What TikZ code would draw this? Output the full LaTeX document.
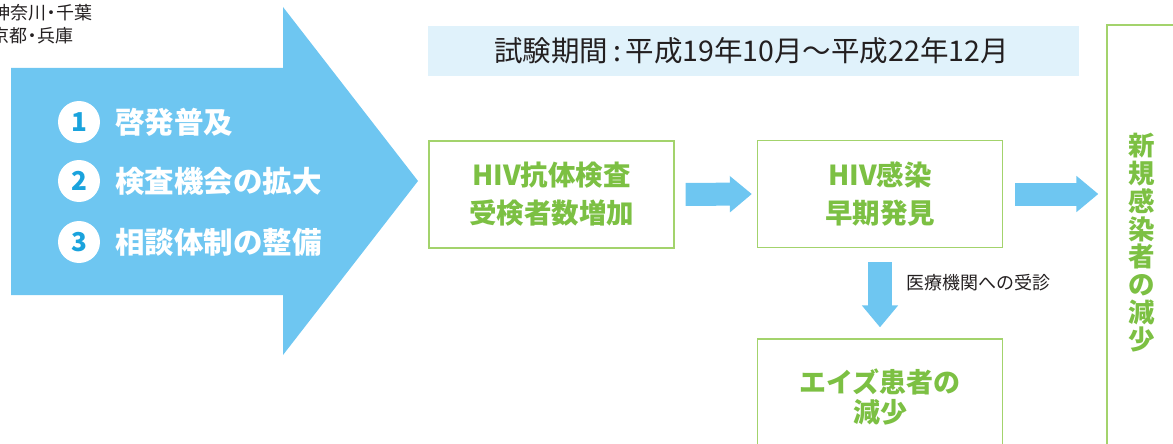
\documentclass[tikz,border=0pt]{standalone}
\usepackage{fontspec}
\newfontfamily\jp{Noto Sans CJK JP}
\usetikzlibrary{arrows.meta}
\definecolor{skyb}{HTML}{6EC6F1}
\definecolor{numc}{HTML}{1AA3DD}
\definecolor{grtext}{HTML}{7CC043}
\definecolor{grline}{HTML}{A3D36C}
\definecolor{titlebg}{HTML}{E0F2FB}
\definecolor{darktext}{HTML}{231F20}
\newcommand{\ndot}{\kern-4pt・\kern-4pt}
\tikzset{
  greenbox/.style={draw=grline, line width=1.3pt, fill=white, minimum width=245pt, minimum height=107pt, inner sep=0pt,
    text=grtext, align=center, font=\jp\bfseries\fontsize{27.5}{38}\selectfont},
  bigarrow/.style={draw=skyb, line width=23pt, -{Triangle[width=35pt,length=22pt]}},
  numcircle/.style={circle, fill=white, minimum size=42pt, inner sep=0pt, text=numc, font=\jp\bfseries\fontsize{26}{26}\selectfont},
  itemtext/.style={anchor=west, text=white, inner sep=0pt, font=\jp\bfseries\fontsize{29.5}{30}\selectfont},
  smalltext/.style={text=darktext, inner sep=0pt, font=\jp\fontsize{18}{20}\selectfont}
}
\begin{document}
\begin{tikzpicture}[x=1pt,y=-1pt]
\useasboundingbox (0,0) rectangle (1173,444);
\clip (0,0) rectangle (1173,444);
% top-left regions (cut at the left edge, as in the reference)
\node[smalltext, anchor=east] (reg1) at (93,13) {神奈川\ndot 千葉};
\node[smalltext, anchor=east] (reg2) at (74,36) {京都\ndot 兵庫};
% big arrow
\fill[skyb] (11,68) -- (283,68) -- (283,7) -- (418,181) -- (283,355) -- (283,295) -- (11,295) -- cycle;
\node[numcircle] (n1) at (79,122) {1};
\node[numcircle] (n2) at (79,181) {2};
\node[numcircle] (n3) at (79,242) {3};
\node[itemtext] (t1) at (115,122) {啓発普及};
\node[itemtext] (t2) at (115,181) {検査機会の拡大};
\node[itemtext] (t3) at (115,242) {相談体制の整備};
% title
\node[fill=titlebg, minimum width=651pt, minimum height=50pt, inner sep=0pt] (title) at (753.5,51) {};
\node[text=darktext, inner sep=0pt, font=\jp\fontsize{28.5}{30}\selectfont] (titletext) at (751.5,51) {試験期間\,:\,平成19年10月～平成22年12月};
% boxes
\node[greenbox] (box1) at (551.5,194.5) {HIV抗体検査\\受検者数増加};
\node[greenbox] (box2) at (880,194) {HIV感染\\早期発見};
\node[greenbox, minimum height=130pt] (box3) at (880,404) {};
\node[text=grtext, align=center, inner sep=0pt, font=\jp\bfseries\fontsize{27}{30}\selectfont] (box3text) at (880,397) {エイズ患者の\\減少};
\node[draw=grline, line width=1.3pt, minimum width=100pt, minimum height=460pt, inner sep=0pt] (rbox) at (1157,255) {};
\node[text=grtext, align=center, inner sep=0pt, font=\jp\bfseries\fontsize{26.5}{27.7}\selectfont] (rtext) at (1142,243) {新\\規\\感\\染\\者\\の\\減\\少};
% arrows
\draw[bigarrow, shorten <=11pt, shorten >=5pt] (box1.east) -- (box2.west);
\draw[bigarrow, shorten <=12pt, shorten >=8pt] (box2.east) -- (box2.east -| rbox.west);
\draw[bigarrow, line width=24pt, shorten <=14pt, shorten >=11pt] (box2.south) -- (box3.north);
\node[smalltext, anchor=west] (visit) at (906,283) {医療機関への受診};
\end{tikzpicture}
\end{document}
